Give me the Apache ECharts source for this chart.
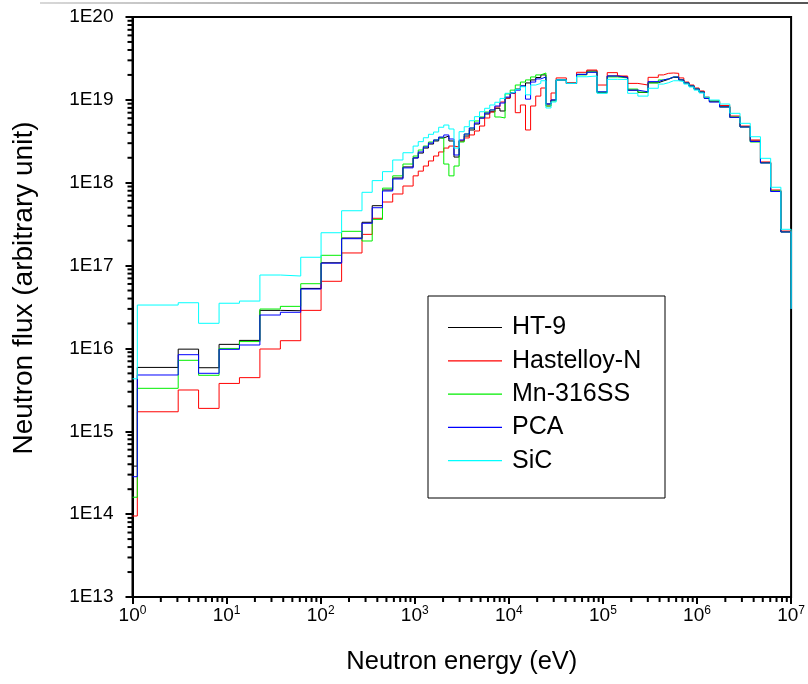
<!DOCTYPE html>
<html><head><meta charset="utf-8">
<script src="https://cdn.jsdelivr.net/npm/echarts@6/dist/echarts.min.js"></script>
<style>html,body{margin:0;padding:0;background:#fff}#c{width:808px;height:684px}</style>
</head><body><div id="c"></div>
<script>
// Lower edges of the energy groups (eV)
const binEdges = [1, 1.125, 3.06, 5.04, 8.32, 13.7, 22.6, 37.3, 61.4, 101, 167, 275,
  353, 454, 583, 749, 961,
  1089, 1234, 1398, 1584, 1795, 2034, 2305, 2612, 2960, 3354, 3801, 4307, 4881, 5531, 6267, 7102, 8047, 9119,
  10333, 11709, 13268, 15034, 17036, 19305, 21875, 24788, 28088, 31827,
  40868, 52475, 67379, 86517, 111090, 142642, 183156, 235177, 301974, 387742,
  439369, 497871, 564161, 639279, 724398, 820850, 930144, 1053992, 1194329, 1353353,
  1737739, 2231302, 2865048, 3678794, 4723666, 6065307, 7788008];
const upperEdge = 1e7;
const seriesNames = ['HT-9', 'Hastelloy-N', 'Mn-316SS', 'PCA', 'SiC'];
const seriesColors = ['#000000', '#ff0000', '#00ee00', '#0000ff', '#00ffff'];

const ht9 = [3.8e14, 5.9e15, 9.8e15, 5.85e15, 1.12e16, 1.25e16, 2.88e16, 2.85e16, 5.3e16, 1.08e17, 2.15e17, 3.33e17,
  5.28e17, 8.17e17, 1.14e18, 1.55e18, 1.99e18, 2.28e18, 2.62e18, 2.93e18, 3.19e18, 3.47e18, 3.66e18, 3.19e18, 2.04e18,
  3.19e18, 3.66e18, 4.33e18, 5.11e18, 6.04e18, 6.75e18, 7.19e18, 7.91e18, 7.34e18, 1.05e19, 1.21e19, 1.35e19, 1.47e19,
  1.60e19, 1.74e19, 1.86e19, 2.00e19, 8.91e18, 9.95e18, 1.74e19, 1.58e19, 2.03e19, 2.23e19, 1.22e19, 1.94e19, 1.89e19,
  1.31e19, 1.23e19, 1.61e19, 1.69e19, 1.77e19, 1.87e19, 1.86e19, 1.74e19, 1.60e19, 1.47e19, 1.35e19, 1.25e19, 1.05e19,
  9.51e18, 8.26e18, 6.15e18, 4.74e18, 3.19e18, 1.75e18, 7.94e17, 2.56e17];
const hastelloyN = [9.5e13, 1.72e15, 3.15e15, 1.89e15, 3.78e15, 4.44e15, 9.84e15, 1.24e16, 2.88e16, 6.46e16, 1.42e17, 2.38e17,
  3.72e17, 5.85e17, 7.31e17, 9.12e17, 1.21e18, 1.38e18, 1.59e18, 1.83e18, 2.10e18, 2.35e18, 2.62e18, 2.77e18, 2.70e18,
  3.19e18, 3.47e18, 3.77e18, 4.21e18, 4.83e18, 6.04e18, 7.13e18, 8.20e18, 9.42e18, 1.05e19, 1.20e19, 7.00e18, 8.67e18,
  4.33e18, 8.43e18, 1.11e19, 1.39e19, 8.43e18, 1.21e19, 1.84e19, 1.61e19, 2.15e19, 2.29e19, 1.51e19, 2.13e19, 1.94e19,
  1.58e19, 1.51e19, 1.87e19, 2.00e19, 2.09e19, 2.11e19, 2.09e19, 1.84e19, 1.64e19, 1.51e19, 1.39e19, 1.28e19, 1.08e19,
  9.69e18, 8.55e18, 6.38e18, 4.83e18, 3.28e18, 1.78e18, 8.17e17, 2.61e17];
const mn316ss = [1.6e14, 3.3e15, 7.19e15, 4.74e15, 1.0e16, 1.21e16, 2.99e16, 3.22e16, 6.04e16, 1.33e17, 2.59e17, 1.98e17,
  3.61e17, 8.6e17, 1.21e18, 1.68e18, 2.10e18, 2.48e18, 2.77e18, 3.10e18, 3.28e18, 3.47e18, 1.68e18, 1.21e18, 1.59e18,
  3.10e18, 3.87e18, 4.57e18, 5.56e18, 6.21e18, 7.13e18, 7.55e18, 6.21e18, 6.04e18, 1.18e19, 1.31e19, 1.51e19, 1.64e19,
  1.74e19, 1.89e19, 2.00e19, 2.11e19, 8.43e18, 9.69e18, 1.74e19, 1.58e19, 2.00e19, 2.17e19, 1.24e19, 1.89e19, 1.84e19,
  1.35e19, 1.24e19, 1.60e19, 1.74e19, 1.79e19, 1.89e19, 1.89e19, 1.74e19, 1.60e19, 1.47e19, 1.35e19, 1.24e19, 1.05e19,
  9.69e18, 8.20e18, 6.21e18, 4.70e18, 3.10e18, 1.73e18, 7.94e17, 2.54e17];
const pca = [2.83e14, 4.78e15, 8.4e15, 5.01e15, 9.75e15, 1.10e16, 2.53e16, 2.73e16, 5.21e16, 1.07e17, 2.11e17, 3.24e17,
  4.99e17, 7.94e17, 1.11e18, 1.51e18, 1.99e18, 2.35e18, 2.70e18, 3.01e18, 3.28e18, 3.56e18, 3.77e18, 3.37e18, 2.16e18,
  3.28e18, 3.87e18, 4.57e18, 5.26e18, 6.04e18, 6.94e18, 7.55e18, 8.43e18, 9.16e18, 1.08e19, 1.21e19, 1.31e19, 1.47e19,
  1.02e19, 1.64e19, 1.79e19, 1.89e19, 8.91e18, 9.95e18, 1.74e19, 1.58e19, 2.03e19, 2.15e19, 1.25e19, 1.94e19, 1.86e19,
  1.31e19, 1.25e19, 1.66e19, 1.74e19, 1.79e19, 1.89e19, 1.89e19, 1.74e19, 1.60e19, 1.47e19, 1.35e19, 1.24e19, 1.04e19,
  9.42e18, 8.20e18, 6.15e18, 4.70e18, 3.14e18, 1.73e18, 7.83e17, 2.54e17];
const sic = [4.3e15, 3.34e16, 3.56e16, 2.01e16, 3.51e16, 3.73e16, 7.69e16, 7.48e16, 1.26e17, 2.49e17, 4.59e17, 7.66e17,
  1.06e18, 1.36e18, 1.88e18, 2.30e18, 2.77e18, 3.13e18, 3.49e18, 3.84e18, 4.09e18, 4.67e18, 4.97e18, 4.45e18, 2.62e18,
  4.13e18, 4.74e18, 5.60e18, 6.27e18, 7.19e18, 7.91e18, 8.67e18, 9.35e18, 1.04e19, 1.20e19, 1.24e19, 1.34e19, 1.44e19,
  1.15e19, 1.51e19, 1.58e19, 1.70e19, 7.98e18, 9.42e18, 1.74e19, 1.58e19, 1.90e19, 1.94e19, 1.20e19, 1.77e19, 1.76e19,
  1.20e19, 1.11e19, 1.38e19, 1.55e19, 1.61e19, 1.70e19, 1.70e19, 1.66e19, 1.55e19, 1.43e19, 1.31e19, 1.21e19, 1.08e19,
  9.95e18, 8.91e18, 6.88e18, 5.21e18, 3.59e18, 1.97e18, 8.81e17, 2.74e17];
// flux in the group just above 10 MeV (drawn as the drop at the right edge)
const tailValues = [3e16, 3e16, 3e16, 3e16, 3e16];

const xTickExponents = [0, 1, 2, 3, 4, 5, 6, 7];
const yTickExponents = [13, 14, 15, 16, 17, 18, 19, 20];

const allSeries = [ht9, hastelloyN, mn316ss, pca, sic];
const FONT = 'Liberation Sans, Arial, sans-serif';

function stepData(vals, tail) {
  const d = binEdges.map((e, i) => [e, vals[i]]);
  d.push([upperEdge, vals[vals.length - 1]]);
  d.push([upperEdge, tail]);
  return d;
}

const chart = echarts.init(document.getElementById('c'), null, {renderer: 'canvas'});
const series = allSeries.map((vals, i) => ({
  name: seriesNames[i],
  type: 'line',
  step: 'end',
  data: stepData(vals, tailValues[i]),
  showSymbol: false,
  symbol: 'none',
  lineStyle: {color: seriesColors[i], width: 1},
  itemStyle: {color: seriesColors[i]},
  z: 3 + i
}));

chart.setOption({
  animation: false,
  backgroundColor: '#fff',
  grid: {left: 132.5, right: 15, top: 17, bottom: 87, show: true, borderColor: '#000', borderWidth: 2},
  xAxis: {
    type: 'log', logBase: 10, min: 1, max: 1e7, interval: 1,
    name: 'Neutron energy (eV)', nameLocation: 'middle', nameGap: 52,
    nameTextStyle: {fontFamily: FONT, fontSize: 25.5, color: '#000'},
    axisLine: {lineStyle: {color: '#000', width: 2}},
    axisTick: {show: true, length: 7, lineStyle: {color: '#000', width: 2}},
    splitLine: {show: false},
    axisLabel: {
      margin: 8,
      formatter: function (v) { const e = Math.round(Math.log10(v)); return '{b|10}{s|' + e + '}'; },
      rich: {
        b: {fontFamily: FONT, fontSize: 19, color: '#000', lineHeight: 22},
        s: {fontFamily: FONT, fontSize: 12, color: '#000', verticalAlign: 'top', lineHeight: 12}
      }
    }
  },
  yAxis: {
    type: 'log', logBase: 10, min: 1e13, max: 1e20, interval: 1,
    axisLine: {lineStyle: {color: '#000', width: 2}},
    axisTick: {show: true, length: 7, lineStyle: {color: '#000', width: 2}},
    splitLine: {show: false},
    axisLabel: {
      margin: 19, fontFamily: FONT, fontSize: 19, color: '#000',
      formatter: function (v) { return '1E' + Math.round(Math.log10(v)); }
    }
  },
  legend: {
    data: seriesNames,
    orient: 'vertical',
    left: 448, top: 315, z: 20, padding: 0,
    icon: 'rect', itemWidth: 54, itemHeight: 1.2, itemGap: 8.3,
    textStyle: {fontFamily: FONT, fontSize: 25, color: '#000', lineHeight: 25, padding: [0, 0, 0, 5]},
    selectedMode: false
  },
  series: series
});

// Legend frame, top rule, y-axis title and minor ticks (2..9 per decade, placed through the axes' scales)
const graphics = [
  {type: 'rect', shape: {x: 428, y: 296, width: 237, height: 202}, style: {fill: 'transparent', stroke: '#000', lineWidth: 1}, z: 100, silent: true},
  {type: 'line', shape: {x1: 40, y1: 3, x2: 808, y2: 3},
   style: {stroke: new echarts.graphic.LinearGradient(40, 0, 808, 0, [{offset: 0, color: '#d8d8d8'}, {offset: 1, color: '#555'}], true), lineWidth: 2}, silent: true},
  {type: 'text', x: 24, y: 288, rotation: Math.PI / 2,
   style: {text: 'Neutron flux (arbitrary unit)', fontFamily: FONT, fontSize: 28, fill: '#000', align: 'center', verticalAlign: 'middle'}, silent: true}
];
const corner = chart.convertToPixel({gridIndex: 0}, [1, 1e13]);
for (let i = 0; i < xTickExponents.length - 1; i++) {
  for (let m = 2; m <= 9; m++) {
    const q = chart.convertToPixel({gridIndex: 0}, [m * Math.pow(10, xTickExponents[i]), 1e13]);
    graphics.push({type: 'line', shape: {x1: q[0], y1: corner[1], x2: q[0], y2: corner[1] + 5}, style: {stroke: '#000', lineWidth: 2}, silent: true, z: 60});
  }
}
for (let i = 0; i < yTickExponents.length - 1; i++) {
  for (let m = 2; m <= 9; m++) {
    const q = chart.convertToPixel({gridIndex: 0}, [1, m * Math.pow(10, yTickExponents[i])]);
    graphics.push({type: 'line', shape: {x1: corner[0] - 5, y1: q[1], x2: corner[0], y2: q[1]}, style: {stroke: '#000', lineWidth: 2}, silent: true, z: 60});
  }
}
chart.setOption({graphic: graphics});
</script></body></html>
